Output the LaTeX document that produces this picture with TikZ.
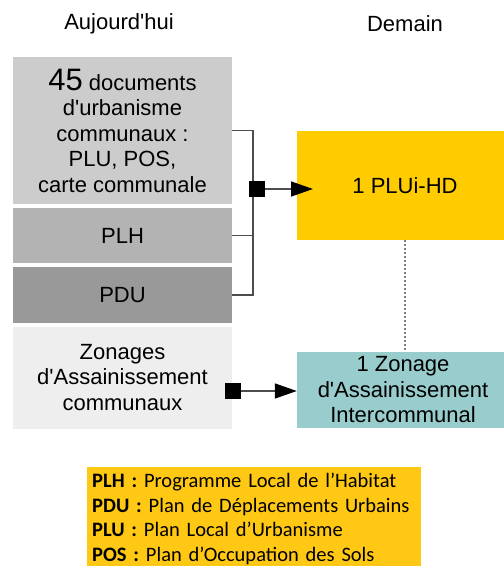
\documentclass[tikz,border=0pt]{standalone}
\usepackage{fontspec}
\newfontfamily\arialfont{Liberation Sans}
\newfontfamily\calibrifont{Carlito}
\usetikzlibrary{arrows.meta}

\definecolor{docgray}{HTML}{CCCCCC}
\definecolor{plhgray}{HTML}{B3B3B3}
\definecolor{pdugray}{HTML}{999999}
\definecolor{zonegray}{HTML}{EEEEEE}
\definecolor{pluiyellow}{HTML}{FFCC00}
\definecolor{zoneteal}{HTML}{99CCCC}
\definecolor{legendyellow}{HTML}{FEC814}
\definecolor{linkgray}{HTML}{4D4D4D}

\begin{document}
\begin{tikzpicture}[x=1pt, y=-1pt,
    box/.style={inner sep=0pt, align=center, text=black,
        font=\arialfont\fontsize{22}{25.5}\selectfont},
    link/.style={draw=linkgray, line width=1.5pt}]

    \path[use as bounding box, clip] (0,0) rectangle (504,566);

    \node[box] (today) at (119,24) {Aujourd'hui};
    \node[box] (tomorrow) at (405,24) {Demain};

    \node[box, fill=docgray, minimum width=219, minimum height=147] (docs) at (122.5,130.5)
        {{\fontsize{31}{30}\selectfont 45} documents\\d'urbanisme\\communaux :\\PLU, POS,\\carte communale};
    \node[box, fill=plhgray, minimum width=219, minimum height=55] (plh) at (122.5,235.5) {PLH};
    \node[box, fill=pdugray, minimum width=219, minimum height=56] (pdu) at (122.5,295) {PDU};
    \node[box, fill=zonegray, minimum width=219, minimum height=102] (zones) at (122.5,377.5)
        {Zonages\\d'Assainissement\\communaux};

    \node[box, fill=pluiyellow, minimum width=216, minimum height=109] (plui) at (405,185.5) {1 PLUi-HD};
    \node[box, fill=zoneteal, minimum width=212, minimum height=76] (zint) at (403,390)
        {1 Zonage\\d'Assainissement\\Intercommunal};

    \node[fill=legendyellow, minimum width=334, minimum height=103, anchor=north west,
        inner sep=5pt, align=left, text width=324,
        font=\calibrifont\fontsize{20.5}{24.5}\selectfont] (legend) at (87,467)
        {\textbf{PLH :} Programme Local de l’Habitat\\
         \textbf{PDU :} Plan de Déplacements Urbains\\
         \textbf{PLU :} Plan Local d’Urbanisme\\
         \textbf{POS :} Plan d’Occupation des Sols};

    \coordinate (bar) at (253,189);
    \coordinate (startA) at (249,189);
    \coordinate (tipA) at (313,189);
    \coordinate (startB) at (225,391);

    \draw[link] (docs.east) -| (bar) |- (pdu.east);
    \draw[link] (plh.east) -- (plh.east -| bar);

    \begin{scope}[link]
        \draw[{Square[black, length=16pt, width=16pt]}-{Triangle[black, length=22pt, width=15pt]}]
            (startA) -- (tipA);
        \draw[{Square[black, length=16pt, width=16pt]}-{Triangle[black, length=22pt, width=15pt]}]
            (startB) -- (startB -| zint.west);
    \end{scope}

    \draw[gray, dash pattern=on 2pt off 2pt, line width=2pt] (plui.south) -- (plui.south |- zint.north);

\end{tikzpicture}
\end{document}
